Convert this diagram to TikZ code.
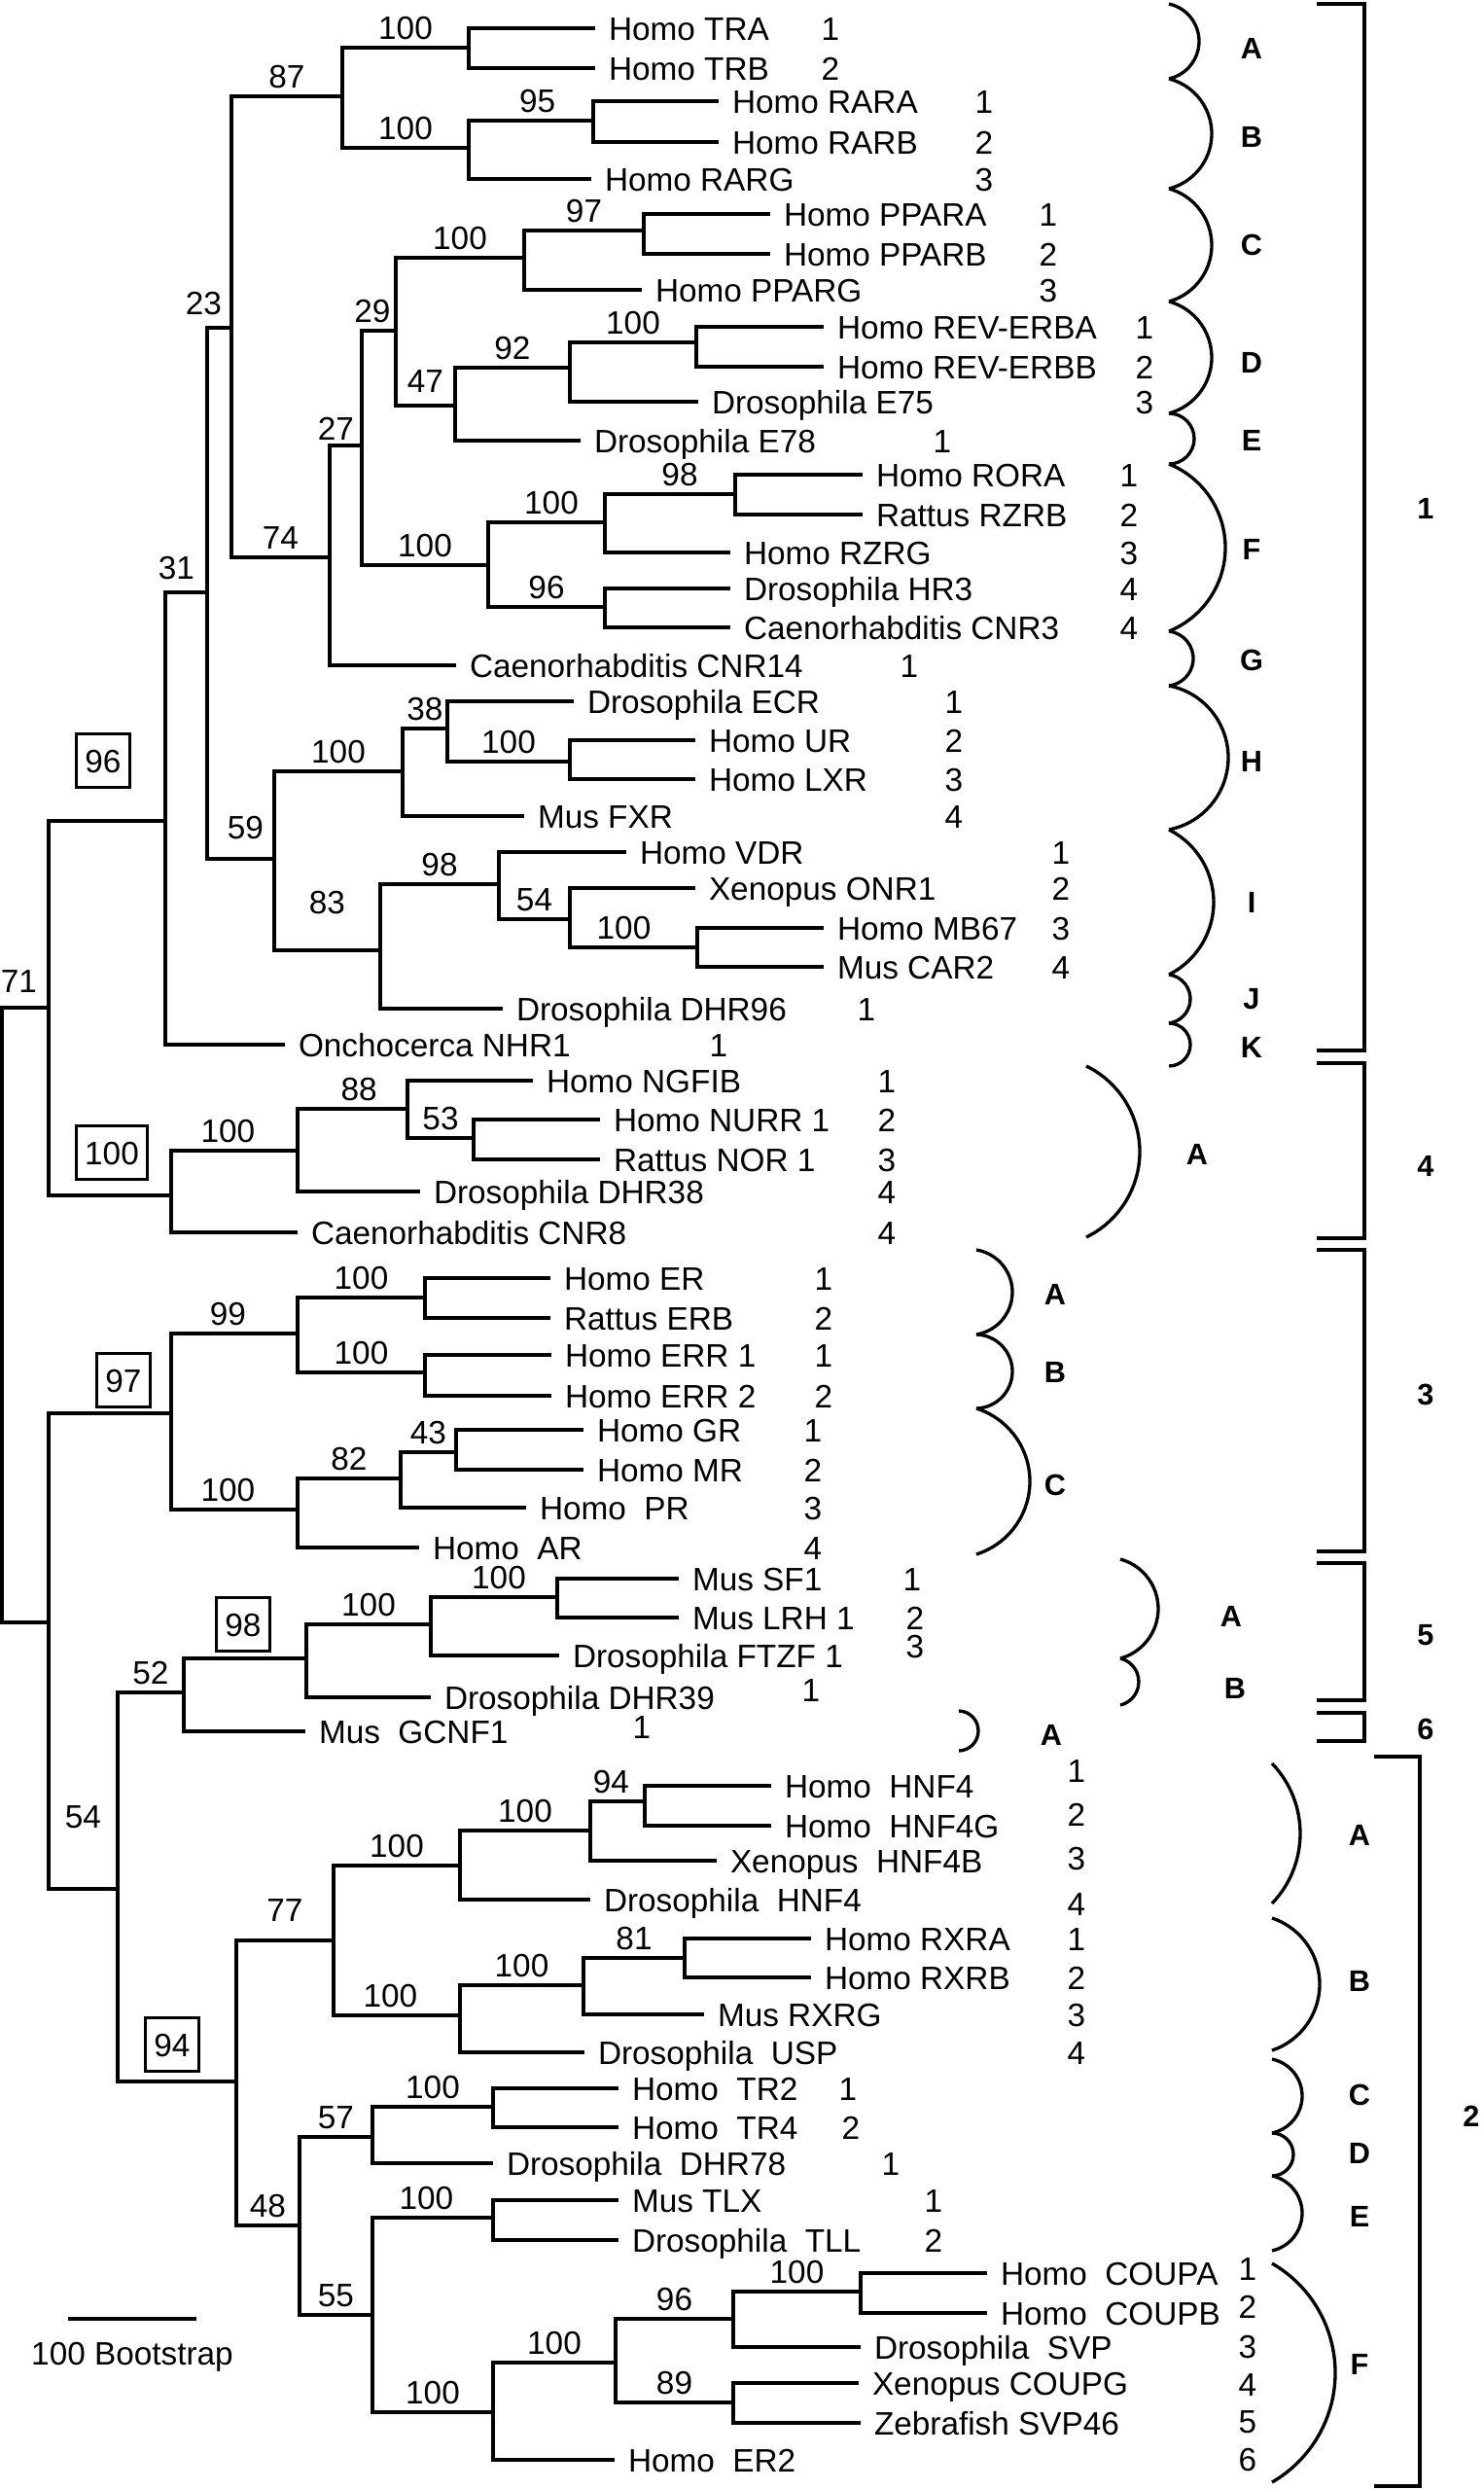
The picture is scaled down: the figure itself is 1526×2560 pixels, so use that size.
\documentclass[tikz,border=0pt]{standalone}
\usepackage{fontspec}
\setmainfont{Liberation Sans}
\usepackage{amsmath}

\tikzset{
  branch/.style={line width=1pt},
  leaf/.style={anchor=west, inner xsep=4pt, inner ysep=0pt, text height=7.2pt, text depth=0pt},
  num/.style={inner sep=0pt, text height=7.2pt, text depth=0pt},
  boot/.style={pos=0.75, above, inner sep=2.2pt, text height=7.2pt, text depth=0pt},
  bootbox/.style={draw, line width=0.9pt, inner xsep=2.6pt, inner ysep=0pt, minimum height=16.6pt, text height=7.2pt, text depth=0pt},
  cladebrace/.style={line width=1pt},
  groupbracket/.style={line width=1.2pt},
  cladeletter/.style={font=\fontsize{9.2}{11}\bfseries\selectfont, inner sep=0pt, text height=6.6pt, text depth=0pt},
}

\begin{document}
\begin{tikzpicture}[x=0.3pt, y=-0.3pt, font=\fontsize{10}{12}\selectfont]
  \useasboundingbox (0,0) rectangle (1526,2560);

  % internal nodes of the tree
  \coordinate (root) at (2,1352);
  \coordinate (n71) at (50,1036);
  \coordinate (nlow) at (50,1668);
  \coordinate (n96) at (170,844);
  \coordinate (n100b) at (176,1229);
  \coordinate (n31) at (213,609);
  \coordinate (n23) at (238,337);
  \coordinate (n59) at (282,883);
  \coordinate (n87) at (352,99);
  \coordinate (n74) at (339,573);
  \coordinate (nTR) at (482,49);
  \coordinate (nRAR) at (482,152);
  \coordinate (n95) at (610,124);
  \coordinate (n27) at (372,458);
  \coordinate (n29) at (407,340);
  \coordinate (nROR) at (502,581);
  \coordinate (nPPAR) at (539,265);
  \coordinate (n97) at (662,237);
  \coordinate (n47) at (468,417);
  \coordinate (n92) at (586,378);
  \coordinate (nREV) at (716,352);
  \coordinate (nRZ) at (622,537);
  \coordinate (n98a) at (756,508);
  \coordinate (n96b) at (622,624);
  \coordinate (nH) at (414,793);
  \coordinate (n38) at (460,749);
  \coordinate (nUR) at (586,783);
  \coordinate (n83) at (391,977);
  \coordinate (n98b) at (513,909);
  \coordinate (n54a) at (586,945);
  \coordinate (nMB) at (717,974);
  \coordinate (nNR4) at (306,1183);
  \coordinate (n88) at (419,1140);
  \coordinate (n53) at (487,1170);
  \coordinate (n97b) at (176,1453);
  \coordinate (n54b) at (121,1942);
  \coordinate (n99) at (306,1371);
  \coordinate (nSR) at (306,1552);
  \coordinate (nER) at (437,1334);
  \coordinate (nERR) at (437,1411);
  \coordinate (n82) at (412,1520);
  \coordinate (n43) at (469,1493);
  \coordinate (n52) at (189,1740);
  \coordinate (n94) at (243,2140);
  \coordinate (n98c) at (315,1705);
  \coordinate (nFTZ) at (443,1670);
  \coordinate (nSF) at (573,1642);
  \coordinate (n77) at (343,1995);
  \coordinate (n48) at (308,2288);
  \coordinate (nHNF) at (473,1918);
  \coordinate (nHNFi) at (607,1882);
  \coordinate (n94b) at (663,1852);
  \coordinate (nRXR) at (473,2072);
  \coordinate (nRXRi) at (600,2041);
  \coordinate (n81) at (704,2013);
  \coordinate (n57) at (383,2197);
  \coordinate (n55) at (383,2380);
  \coordinate (nTR2) at (507,2166);
  \coordinate (nTLX) at (507,2280);
  \coordinate (nCOUPg) at (507,2480);
  \coordinate (nCOUP) at (633,2429);
  \coordinate (n96c) at (754,2384);
  \coordinate (nCOUPab) at (885,2356);
  \coordinate (n89) at (754,2470);

  % leaves
  \node[leaf] (tra) at (612,29) {Homo TRA};
  \node[leaf] (trb) at (612,70) {Homo TRB};
  \node[leaf] (rara) at (739,104) {Homo RARA};
  \node[leaf] (rarb) at (739,146) {Homo RARB};
  \node[leaf] (rarg) at (608,184) {Homo RARG};
  \node[leaf] (ppara) at (792,220) {Homo PPARA};
  \node[leaf] (pparb) at (792,261) {Homo PPARB};
  \node[leaf] (pparg) at (660,298) {Homo PPARG};
  \node[leaf] (reva) at (847,336) {Homo REV-ERBA};
  \node[leaf] (revb) at (847,377) {Homo REV-ERBB};
  \node[leaf] (e75) at (718,413) {Drosophila E75};
  \node[leaf] (e78) at (597,453) {Drosophila E78};
  \node[leaf] (rora) at (887,488) {Homo RORA};
  \node[leaf] (rzrb) at (887,529) {Rattus RZRB};
  \node[leaf] (rzrg) at (751,568) {Homo RZRG};
  \node[leaf] (hr3) at (751,605) {Drosophila HR3};
  \node[leaf] (cnr3) at (751,645) {Caenorhabditis CNR3};
  \node[leaf] (cnr14) at (469,684) {Caenorhabditis CNR14};
  \node[leaf] (ecr) at (590,721) {Drosophila ECR};
  \node[leaf] (ur) at (715,761) {Homo UR};
  \node[leaf] (lxr) at (715,801) {Homo LXR};
  \node[leaf] (fxr) at (539,839) {Mus FXR};
  \node[leaf] (vdr) at (644,876) {Homo VDR};
  \node[leaf] (onr1) at (715,913) {Xenopus ONR1};
  \node[leaf] (mb67) at (847,954) {Homo MB67};
  \node[leaf] (car2) at (847,994) {Mus CAR2};
  \node[leaf] (dhr96) at (517,1037) {Drosophila DHR96};
  \node[leaf] (nhr1) at (293,1074) {Onchocerca NHR1};
  \node[leaf] (ngfib) at (548,1111) {Homo NGFIB};
  \node[leaf] (nurr) at (617,1151) {Homo NURR 1};
  \node[leaf] (nor) at (617,1192) {Rattus NOR 1};
  \node[leaf] (dhr38) at (432,1225) {Drosophila DHR38};
  \node[leaf] (cnr8) at (306,1267) {Caenorhabditis CNR8};
  \node[leaf] (er) at (566,1314) {Homo ER};
  \node[leaf] (erb) at (566,1355) {Rattus ERB};
  \node[leaf] (erra) at (567,1393) {Homo ERR 1};
  \node[leaf] (errb) at (567,1435) {Homo ERR 2};
  \node[leaf] (gr) at (600,1470) {Homo GR};
  \node[leaf] (mr) at (600,1511) {Homo MR};
  \node[leaf] (pr) at (541,1550) {Homo\ \ PR};
  \node[leaf] (ar) at (431,1591) {Homo\ \ AR};
  \node[leaf] (sf1) at (698,1623) {Mus SF1};
  \node[leaf] (lrh) at (698,1663) {Mus LRH 1};
  \node[leaf] (ftzf) at (575,1702) {Drosophila FTZF 1};
  \node[leaf] (dhr39) at (443,1745) {Drosophila DHR39};
  \node[leaf] (gcnf) at (314,1780) {Mus\ \ GCNF1};
  \node[leaf] (hnf4) at (793,1836) {Homo\ \ HNF4};
  \node[leaf] (hnf4g) at (793,1877) {Homo\ \ HNF4G};
  \node[leaf] (hnf4b) at (737,1913) {Xenopus\ \ HNF4B};
  \node[leaf] (dhnf4) at (607,1953) {Drosophila\ \ HNF4};
  \node[leaf] (rxra) at (834,1993) {Homo RXRA};
  \node[leaf] (rxrb) at (834,2033) {Homo RXRB};
  \node[leaf] (rxrg) at (724,2071) {Mus RXRG};
  \node[leaf] (usp) at (601,2110) {Drosophila\ \ USP};
  \node[leaf] (tr2) at (636,2147) {Homo\ \ TR2};
  \node[leaf] (tr4) at (636,2187) {Homo\ \ TR4};
  \node[leaf] (dhr78) at (507,2224) {Drosophila\ \ DHR78};
  \node[leaf] (tlx) at (636,2262) {Mus TLX};
  \node[leaf] (tll) at (636,2303) {Drosophila\ \ TLL};
  \node[leaf] (coupa) at (1015,2337) {Homo\ \ COUPA};
  \node[leaf] (coupb) at (1015,2378) {Homo\ \ COUPB};
  \node[leaf] (dsvp) at (885,2413) {Drosophila\ \ SVP};
  \node[leaf] (coupg) at (883,2450) {Xenopus COUPG};
  \node[leaf] (svp46) at (885,2491) {Zebrafish SVP46};
  \node[leaf] (er2) at (632,2529) {Homo\ \ ER2};

  % branches without a label
  \foreach \p/\c in {root/nlow, n71/n96, n71/n100b, nlow/n97b, n54b/n94, n52/n98c,
      nTR/tra, nTR/trb, n95/rara, n95/rarb, nRAR/rarg, n97/ppara, n97/pparb, nPPAR/pparg,
      nREV/reva, nREV/revb, n92/e75, n47/e78, n98a/rora, n98a/rzrb, nRZ/rzrg, n96b/hr3,
      n96b/cnr3, n74/cnr14, n38/ecr, nUR/ur, nUR/lxr, nH/fxr, n98b/vdr, n54a/onr1,
      nMB/mb67, nMB/car2, n83/dhr96, n96/nhr1, n88/ngfib, n53/nurr, n53/nor, nNR4/dhr38,
      n100b/cnr8, nER/er, nER/erb, nERR/erra, nERR/errb, n43/gr, n43/mr, n82/pr, nSR/ar,
      nSF/sf1, nSF/lrh, nFTZ/ftzf, n98c/dhr39, n52/gcnf, n94b/hnf4, n94b/hnf4g,
      nHNFi/hnf4b, nHNF/dhnf4, n81/rxra, n81/rxrb, nRXRi/rxrg, nRXR/usp, nTR2/tr2,
      nTR2/tr4, n57/dhr78, nTLX/tlx, nTLX/tll, nCOUPab/coupa, nCOUPab/coupb, n96c/dsvp,
      n89/coupg, n89/svp46, nCOUPg/er2}
    \draw[branch] (\p) |- (\c);

  % branches with bootstrap values
  \draw[branch] (root) |- node[boot, xshift=-2pt, yshift=2pt]{71} (n71);
  \draw[branch] (n96) |- node[boot, xshift=-3pt, yshift=1.5pt]{31} (n31);
  \draw[branch] (n31) |- node[boot, xshift=-4.8pt, yshift=1.5pt]{23} (n23);
  \draw[branch] (n31) |- node[boot, xshift=1.5pt, yshift=3.6pt]{59} (n59);
  \draw[branch] (n23) |- node[boot]{87} (n87);
  \draw[branch] (n23) |- node[boot]{74} (n74);
  \draw[branch] (n87) |- node[boot]{100} (nTR);
  \draw[branch] (n87) |- node[boot]{100} (nRAR);
  \draw[branch] (nRAR) |- node[boot, xshift=2pt]{95} (n95);
  \draw[branch] (n74) |- node[boot, xshift=-3pt, yshift=-1pt]{27} (n27);
  \draw[branch] (n27) |- node[boot, xshift=-2pt]{29} (n29);
  \draw[branch] (n27) |- node[boot]{100} (nROR);
  \draw[branch] (n29) |- node[boot]{100} (nPPAR);
  \draw[branch] (nPPAR) |- node[boot]{97} (n97);
  \draw[branch] (n29) |- node[boot, yshift=1.5pt]{47} (n47);
  \draw[branch] (n47) |- node[boot]{92} (n92);
  \draw[branch] (n92) |- node[boot]{100} (nREV);
  \draw[branch] (nROR) |- node[boot, xshift=1.5pt]{100} (nRZ);
  \draw[branch] (nRZ) |- node[boot, xshift=3pt]{98} (n98a);
  \draw[branch] (nROR) |- node[boot]{96} (n96b);
  \draw[branch] (n59) |- node[boot]{100} (nH);
  \draw[branch] (nH) |- node[boot]{38} (n38);
  \draw[branch] (n38) |- node[boot]{100} (nUR);
  \draw[branch] (n59) |- node[boot, yshift=8.7pt]{83} (n83);
  \draw[branch] (n83) |- node[boot]{98} (n98b);
  \draw[branch] (n98b) |- node[boot]{54} (n54a);
  \draw[branch] (n54a) |- node[boot, xshift=-3pt]{100} (nMB);
  \draw[branch] (n100b) |- node[boot, xshift=-2pt]{100} (nNR4);
  \draw[branch] (nNR4) |- node[boot, xshift=2pt]{88} (n88);
  \draw[branch] (n88) |- node[boot]{53} (n53);
  \draw[branch] (nlow) |- node[boot, yshift=16pt]{54} (n54b);
  \draw[branch] (n97b) |- node[boot, xshift=-2pt]{99} (n99);
  \draw[branch] (n97b) |- node[boot, xshift=-2pt]{100} (nSR);
  \draw[branch] (n99) |- node[boot]{100} (nER);
  \draw[branch] (n99) |- node[boot]{100} (nERR);
  \draw[branch] (nSR) |- node[boot]{82} (n82);
  \draw[branch] (n82) |- node[boot]{43} (n43);
  \draw[branch] (n54b) |- node[boot]{52} (n52);
  \draw[branch] (n98c) |- node[boot]{100} (nFTZ);
  \draw[branch] (nFTZ) |- node[boot, xshift=1.5pt]{100} (nSF);
  \draw[branch] (n94) |- node[boot, yshift=3.3pt]{77} (n77);
  \draw[branch] (n94) |- node[boot]{48} (n48);
  \draw[branch] (n77) |- node[boot]{100} (nHNF);
  \draw[branch] (nHNF) |- node[boot]{100} (nHNFi);
  \draw[branch] (nHNFi) |- node[boot, xshift=-2pt]{94} (n94b);
  \draw[branch] (n77) |- node[boot, xshift=-2pt]{100} (nRXR);
  \draw[branch] (nRXR) |- node[boot]{100} (nRXRi);
  \draw[branch] (nRXRi) |- node[boot]{81} (n81);
  \draw[branch] (n48) |- node[boot]{57} (n57);
  \draw[branch] (n57) |- node[boot]{100} (nTR2);
  \draw[branch] (n48) |- node[boot]{55} (n55);
  \draw[branch] (n55) |- node[boot, xshift=-2pt]{100} (nTLX);
  \draw[branch] (n55) |- node[boot]{100} (nCOUPg);
  \draw[branch] (nCOUPg) |- node[boot]{100} (nCOUP);
  \draw[branch] (nCOUP) |- node[boot]{96} (n96c);
  \draw[branch] (n96c) |- node[boot]{100} (nCOUPab);
  \draw[branch] (nCOUP) |- node[boot]{89} (n89);

  % boxed bootstrap values
  \node[bootbox] (box96) at (106,782) {96};
  \node[bootbox] (box100) at (115,1185) {100};
  \node[bootbox] (box97) at (127,1419) {97};
  \node[bootbox] (box98) at (250,1670) {98};
  \node[bootbox] (box94) at (177,2102) {94};

  % member numbers
  \foreach \x/\y/\t [count=\i] in {854/29/1, 854/70/2, 1012/104/1, 1012/146/2, 1012/184/3,
      1078/220/1, 1078/261/2, 1078/298/3, 1177/336/1, 1177/377/2, 1177/413/3, 969/453/1,
      1161/488/1, 1161/529/2, 1161/568/3, 1161/605/4, 1161/645/4, 935/684/1, 981/721/1,
      981/761/2, 981/801/3, 981/839/4, 1091/876/1, 1091/913/2, 1091/954/3, 1091/994/4,
      891/1037/1, 739/1074/1, 912/1111/1, 912/1151/2, 912/1192/3, 912/1225/4, 912/1267/4,
      847/1314/1, 847/1355/2, 847/1393/1, 847/1435/2, 836/1470/1, 836/1511/2, 836/1550/3,
      836/1591/4, 938/1623/1, 941/1663/2, 941/1692/3, 834/1737/1, 660/1775/1,
      1107/1820/1, 1107/1865/2, 1107/1910/3, 1107/1957/4, 1107/1993/1, 1107/2033/2,
      1107/2071/3, 1107/2110/4, 872/2147/1, 875/2187/2, 916/2224/1, 960/2262/1,
      960/2303/2, 1283/2332/1, 1283/2371/2, 1283/2412/3, 1283/2451/4, 1283/2489/5,
      1283/2528/6}
    \node[num] (num\i) at (\x,\y) {\t};

  % subfamily braces
  \foreach \x/\ya/\yb/\sag in {1202/4/81/31, 1202/81/194/44, 1202/194/310/44,
      1202/310/425/44, 1202/425/477/26, 1202/477/649/58, 1202/649/705/25,
      1202/705/853/61, 1202/853/1002/46, 1202/1002/1052/22, 1202/1052/1096/22,
      1117/1096/1272/55, 1004/1285/1372/37, 1004/1372/1448/37, 1004/1448/1598/55,
      1152/1603/1705/39, 1152/1705/1753/19, 986/1759/1800/20, 1308/1813/1957/29,
      1308/1972/2108/49, 1308/2117/2193/31, 1308/2193/2237/22, 1308/2237/2314/31,
      1308/2327/2552/65}
  {
    \pgfmathsetmacro\rad{((\yb-\ya)/2)/(2*\sag)*((\yb-\ya)/2)+\sag/2}
    \pgfmathsetmacro\ang{acos(1-\sag/\rad)}
    \pgfmathsetmacro\radpt{0.3*\rad}
    \draw[cladebrace] (\x,\ya) arc[start angle=\ang, end angle=-\ang, radius=\radpt pt];
  }
  \foreach \x/\y/\t [count=\i] in {1287/49/A, 1287/140/B, 1287/251/C, 1287/372/D,
      1287/452/E, 1287/564/F, 1287/678/G, 1287/782/H, 1287/927/I, 1287/1026/J,
      1287/1076/K, 1231/1186/A, 1085/1330/A, 1085/1410/B, 1085/1526/C, 1266/1661/A,
      1270/1735/B, 1081/1783/A, 1398/1886/A, 1398/2036/B, 1398/2153/C, 1398/2213/D,
      1398/2278/E, 1398/2430/F}
    \node[cladeletter] (sub\i) at (\x,\y) {\t};

  % family brackets
  \foreach \ya/\yb in {4/1080, 1093/1273, 1285/1595, 1607/1748, 1761/1790}
    \draw[groupbracket] (1354,\ya) -| (1403,\yb) -- (1354,\yb);
  \draw[groupbracket] (1413,1806) -| (1460,2556) -- (1413,2556);
  \node[cladeletter] (fam1) at (1466,522) {1};
  \node[cladeletter] (fam4) at (1466,1198) {4};
  \node[cladeletter] (fam3) at (1466,1433) {3};
  \node[cladeletter] (fam5) at (1466,1680) {5};
  \node[cladeletter] (fam6) at (1466,1777) {6};
  \node[cladeletter] (fam2) at (1513,2175) {2};

  % scale bar
  \coordinate (sbL) at (70,2384);
  \coordinate (sbR) at (202,2384);
  \draw[branch] (sbL) -- (sbR);
  \node[num] (sbtext) at (136,2419) {100 Bootstrap};
\end{tikzpicture}
\end{document}
